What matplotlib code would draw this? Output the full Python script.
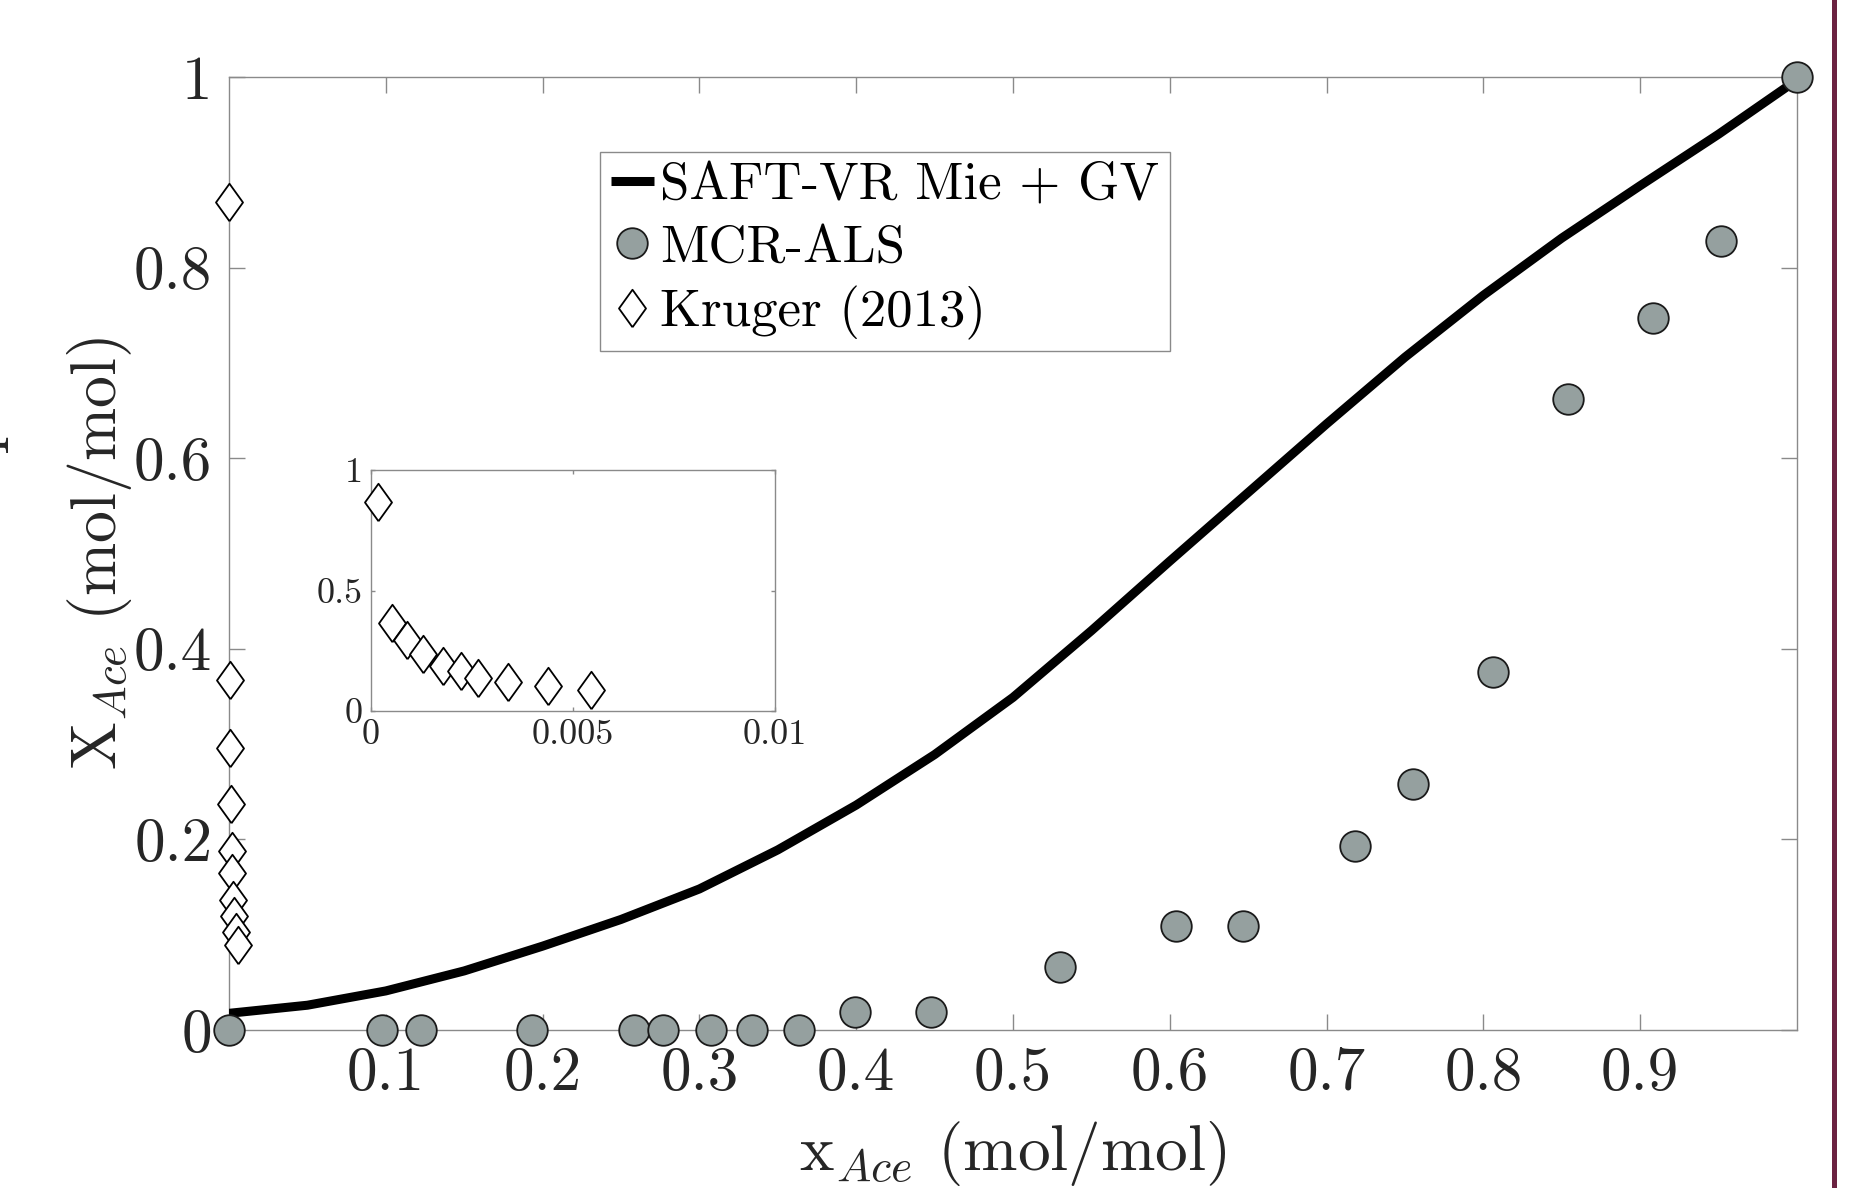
import matplotlib
matplotlib.use("Agg")
import matplotlib.pyplot as plt
from matplotlib.patches import Rectangle

plt.rcParams['font.family'] = 'serif'
plt.rcParams['font.serif'] = ['cmr10', 'DejaVu Serif']
plt.rcParams['mathtext.fontset'] = 'cm'
plt.rcParams['axes.formatter.use_mathtext'] = True

# ---------------- data ----------------
saft_x = [0, 0.05, 0.1, 0.15, 0.2, 0.25, 0.3, 0.35, 0.4, 0.45, 0.5, 0.55,
          0.6, 0.65, 0.7, 0.75, 0.8, 0.85, 0.9, 0.95, 1.0]
saft_y = [0.0175, 0.026, 0.041, 0.062, 0.088, 0.116, 0.148, 0.189, 0.236, 0.289,
          0.349, 0.419, 0.492, 0.564, 0.636, 0.706, 0.771, 0.831, 0.886, 0.940,
          0.997]

mcr_x = [0, 0.0976, 0.1226, 0.193, 0.258, 0.277, 0.3074, 0.3335, 0.3635, 0.3992,
         0.448, 0.530, 0.604, 0.647, 0.718, 0.755, 0.806, 0.854, 0.908, 0.9515, 1.0]
mcr_y = [0, 0, 0, 0, 0, 0, 0, 0, 0, 0.019,
         0.019, 0.066, 0.109, 0.109, 0.193, 0.258, 0.376, 0.662, 0.747, 0.828, 1.0]

kruger_x = [0.000165, 0.00051, 0.00088, 0.00128, 0.00177, 0.00222, 0.00264,
            0.0034, 0.00438, 0.00544]
kruger_y = [0.869, 0.367, 0.296, 0.237, 0.188, 0.165, 0.136, 0.120, 0.103, 0.089]

main_xticks = [0.1, 0.2, 0.3, 0.4, 0.5, 0.6, 0.7, 0.8, 0.9]
main_xticklabels = ['0.1', '0.2', '0.3', '0.4', '0.5', '0.6', '0.7', '0.8', '0.9']
main_yticks = [0, 0.2, 0.4, 0.6, 0.8, 1.0]
main_yticklabels = ['0', '0.2', '0.4', '0.6', '0.8', '1']
inset_xticks = [0, 0.005, 0.01]
inset_xticklabels = ['0', '0.005', '0.01']
inset_yticks = [0, 0.5, 1]
inset_yticklabels = ['0', '0.5', '1']

labels = ['SAFT-VR Mie + GV', 'MCR-ALS', 'Kruger (2013)']

# ---------------- style ----------------
W, H = 1857, 1188
fig = plt.figure(figsize=(W / 100, H / 100), dpi=100)
fig.patch.set_facecolor('white')

spine_col = '#8a8a8a'
text_col = '#262626'
circ_col = '#95a09f'
diamond = [(0, -1), (0.72, 0), (0, 1), (-0.72, 0), (0, -1)]

def px_ax(l, t, r, b):
    return [l / W, 1 - b / H, (r - l) / W, (b - t) / H]

ax = fig.add_axes(px_ax(229, 77, 1797, 1030))
ax.plot(saft_x, saft_y, color='black', lw=6.5, solid_capstyle='butt',
        solid_joinstyle='round', zorder=3, label=labels[0])
ax.plot(mcr_x, mcr_y, ls='none', marker='o', ms=22, mfc=circ_col, mec='#1a1a1a',
        mew=1.3, zorder=5, clip_on=False, label=labels[1])
ax.plot(kruger_x, kruger_y, ls='none', marker=diamond, ms=27, mfc='white',
        mec='black', mew=1.3, zorder=4, clip_on=False, label=labels[2])

ax.set_xlim(0, 1)
ax.set_ylim(0, 1)
ax.set_xticks(main_xticks)
ax.set_xticklabels(main_xticklabels)
ax.set_yticks(main_yticks)
ax.set_yticklabels(main_yticklabels)
ax.tick_params(direction='in', length=11.5, width=1, colors=spine_col,
               labelcolor=text_col, labelsize=44, top=True, right=True, pad=12)
for s in ax.spines.values():
    s.set_color(spine_col)
    s.set_linewidth(1)
ax.set_xlabel(r'x$_{Ace}$ (mol/mol)', fontsize=47, color=text_col, labelpad=12)
ax.set_ylabel(r'X$_{Ace}$ (mol/mol)', fontsize=46, color=text_col, labelpad=0)

leg = ax.legend(loc='upper left', bbox_to_anchor=(600 / W, 1 - 152 / H),
                bbox_transform=fig.transFigure, fontsize=38, frameon=True,
                fancybox=False, framealpha=1, edgecolor=spine_col,
                handlelength=0.82, handletextpad=0.12, labelspacing=0.28,
                borderpad=0.2, borderaxespad=0, markerscale=1.0)
leg.get_frame().set_linewidth(1)
for t in leg.get_texts():
    t.set_color('black')

# inset
axi = fig.add_axes(px_ax(371, 470, 775, 711))
axi.plot(kruger_x, kruger_y, ls='none', marker=diamond, ms=27, mfc='white',
         mec='black', mew=1.3, zorder=4, clip_on=False)
axi.set_xlim(0, 0.01)
axi.set_ylim(0, 1)
axi.set_xticks(inset_xticks)
axi.set_xticklabels(inset_xticklabels)
axi.set_yticks(inset_yticks)
axi.set_yticklabels(inset_yticklabels)
axi.tick_params(direction='in', length=3, width=1, colors=spine_col,
                labelcolor=text_col, labelsize=26, top=True, right=True, pad=6)
for s in axi.spines.values():
    s.set_color(spine_col)
    s.set_linewidth(1)

# cropped glyph at the left edge and dark red border on the right
fig.text(7 / W, 1 - 452 / H, 'q', rotation=90, ha='right', va='center',
         fontsize=48, color=text_col)
fig.add_artist(Rectangle((1832 / W, 0), 5 / W, 1, transform=fig.transFigure,
                         facecolor='#6b2241', edgecolor='none'))

fig.savefig('out.png', dpi=100)
